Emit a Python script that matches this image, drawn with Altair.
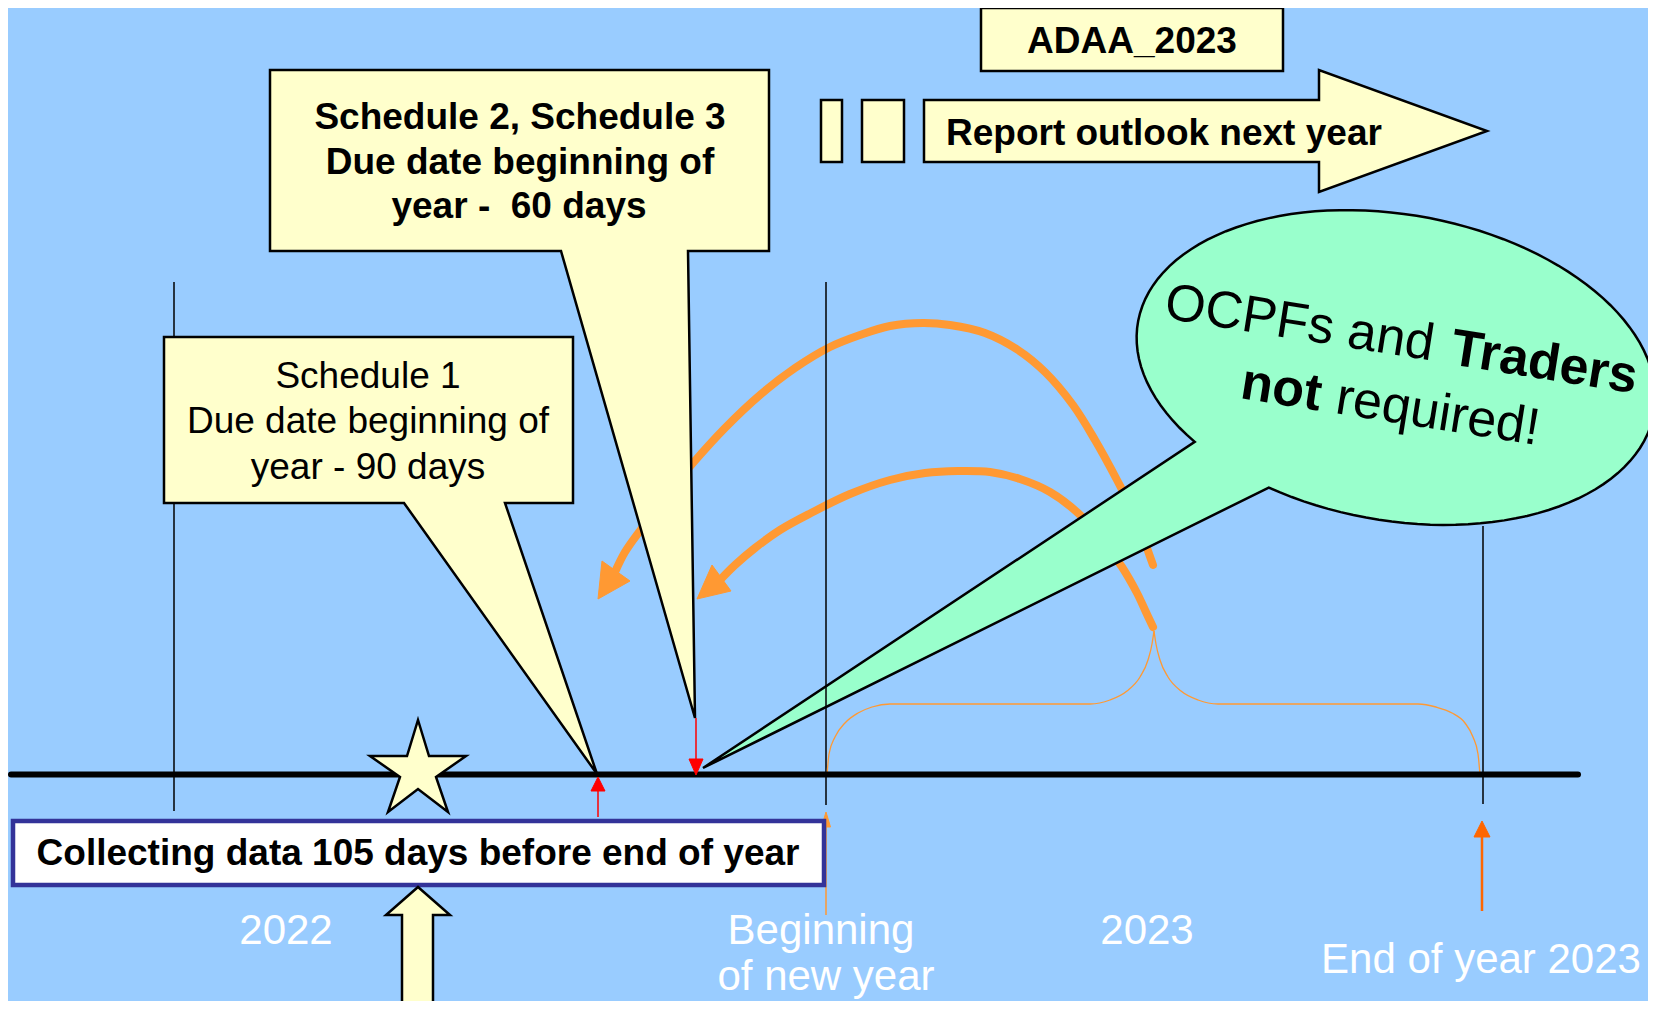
import altair as alt
import pandas as pd
import numpy as np

# ---------------- canvas (coordinates are reference-image pixels) ----------------
W, H = 1640, 993
X0, Y0 = 8, 8
BG, YEL, GRN = "#99CCFF", "#FFFFCC", "#99FFCC"
ORG, ORG2, RED, NAVY = "#FF9933", "#FF6600", "#FF0000", "#333399"
FONT = "Liberation Sans"

# ---------------- shapes ----------------
SCHED1_X = [164, 573, 573, 505, 597, 404, 164]
SCHED1_Y = [337, 337, 503, 503, 774, 503, 503]
SCHED2_X = [270, 769, 769, 688, 695, 561, 270]
SCHED2_Y = [70, 70, 251, 251, 718, 251, 251]
REPORT_X = [924, 1319, 1319, 1487, 1319, 1319, 924]
REPORT_Y = [100, 100, 70, 131, 192, 162, 162]
UPARROW_X = [418, 450, 433, 433, 402, 402, 386]
UPARROW_Y = [887, 915, 915, 1012, 1012, 915, 915]
STAR_X = [418, 429, 466, 436, 448, 418, 388, 400, 370, 407]
STAR_Y = [720, 756, 756, 777, 812, 789, 812, 777, 756, 756]

# green speech bubble: ellipse (centre, radii, tilt) + pointer tip
ELL_CX, ELL_CY, ELL_A, ELL_B, ELL_TILT = 1396, 367.5, 262, 153, 10
ELL_T_START, ELL_T_END = 135, 473.5
BUBBLE_TIP = (703, 768)

# thick orange curved arrows
ARC1_X = [1153, 1147, 1138, 1117, 1095, 1073, 1045, 1018, 985, 950, 923, 890, 860, 830, 795, 760, 725, 693, 665, 642, 625, 615]
ARC1_Y = [565, 548, 522, 480, 440, 405, 372, 350, 333, 325, 323, 326, 335, 347, 368, 395, 428, 463, 497, 528, 552, 572]
ARC2_X = [1153, 1145, 1137, 1122, 1100, 1078, 1050, 1020, 990, 958, 925, 890, 850, 811, 780, 755, 735, 721]
ARC2_Y = [627, 610, 593, 567, 537, 513, 492, 479, 472, 471, 473, 480, 494, 513, 530, 548, 565, 579]
HEAD1_X = [598, 602, 630]
HEAD1_Y = [599, 561, 581]
HEAD2_X = [697, 712, 731]
HEAD2_Y = [599, 565, 591]

# thin orange brace over 2023
BRACE_L_X = [827, 829, 835, 845, 858, 872, 890, 1090, 1110, 1127, 1140, 1148, 1152, 1154]
BRACE_L_Y = [775, 754, 737, 723, 713, 707, 704, 704, 700, 691, 677, 660, 644, 631]
BRACE_R_X = [1154, 1156, 1160, 1168, 1181, 1198, 1218, 1418, 1436, 1452, 1465, 1473, 1478, 1480]
BRACE_R_Y = [631, 644, 660, 677, 691, 700, 704, 704, 707, 713, 723, 737, 754, 775]

# timeline and thin vertical markers
TIMELINE = dict(x=11, x2=1578, y=774.5)
VLINE_X = [174, 826, 1483]
VLINE_Y1 = [282, 282, 526]
VLINE_Y2 = [811, 805, 804]

# small arrows: (x, tip_y, base_y, tail_y, half_width, colour, width)
ARROWS = [
    (696, 775, 759, 718, 7, RED, 1.5),
    (598, 777, 791, 817, 7, RED, 1.5),
    (826, 812, 827, 915, 4.5, ORG, 1.5),
    (1482, 821, 837, 911, 8, ORG2, 2.5),
]

# rectangles: x, x2, y, y2, fill, stroke, width
RECTS = [
    (981, 1283, 8, 71, YEL, "black", 2.5),
    (821, 842, 100, 162, YEL, "black", 2.5),
    (862, 904, 100, 162, YEL, "black", 2.5),
    (13, 824, 821, 885, "white", NAVY, 4.5),
]

# ---------------- texts ----------------
CN_TEXT = ["Schedule 1", "Due date beginning of", "year - 90 days", "2022", "Beginning", "of new year", "2023", "End of year 2023"]
CN_X = [368, 368, 368, 286, 821, 826, 1147, 1481]
CN_Y = [388, 433, 479, 944, 944, 990, 944, 973]
CN_SIZE = [37, 37, 37, 42, 42, 42, 42, 42]
CN_COL = ["black", "black", "black", "white", "white", "white", "white", "white"]

CB_TEXT = ["Schedule 2, Schedule 3", "Due date beginning of", "year - \u00a060 days", "ADAA_2023",
           "Collecting data 105 days before end of year"]
CB_X = [520, 520, 519, 1132, 418]
CB_Y = [129, 174, 218, 53, 865]

LB_TEXT = ["Report outlook next year", "Traders", "not"]
LB_X = [946, 1449, 1239]
LB_Y = [145, 364, 398]
LB_SIZE = [37, 52, 52]
LB_ANGLE = [0, 9, 9]

LN_TEXT = ["OCPFs and", "required!"]
LN_X = [1163, 1334]
LN_Y = [318, 413]
LN_SIZE = [52, 52]
LN_ANGLE = [9, 9]

# ---------------- helpers ----------------
xs = alt.Scale(domain=[X0, X0 + W], nice=False, zero=False)
ys = alt.Scale(domain=[Y0, Y0 + H], nice=False, zero=False, reverse=True)
XE = alt.X("x:Q", scale=xs, axis=None)
YE = alt.Y("y:Q", scale=ys, axis=None)


def poly(px, py, fill, stroke="black", sw=2.5):
    df = pd.DataFrame({"x": px, "y": py, "i": list(range(len(px)))})
    return alt.Chart(df).mark_line(
        fill=fill, stroke=stroke, strokeWidth=sw, strokeJoin="miter",
        interpolate="linear-closed").encode(x=XE, y=YE, order="i:Q")


def curve(px, py, color, sw, interp, cap="round"):
    df = pd.DataFrame({"x": px, "y": py, "i": list(range(len(px)))})
    return alt.Chart(df).mark_line(
        stroke=color, strokeWidth=sw, strokeCap=cap, interpolate=interp
    ).encode(x=XE, y=YE, order="i:Q")


def vrules(xv, y1, y2, color, sw):
    df = pd.DataFrame({"x": xv, "y": y1, "y2": y2})
    return alt.Chart(df).mark_rule(color=color, strokeWidth=sw).encode(
        x=XE, y=YE, y2="y2:Q")


def texts(tt, tx, ty, size, col, ang, align, weight):
    df = pd.DataFrame({"t": tt, "x": tx, "y": ty, "s": size, "c": col, "a": ang})
    return alt.Chart(df).mark_text(
        align=align, baseline="alphabetic", font=FONT, fontWeight=weight
    ).encode(x=XE, y=YE, text="t:N",
             size=alt.Size("s:Q", scale=None),
             color=alt.Color("c:N", scale=None),
             angle=alt.Angle("a:Q", scale=None))


# green bubble outline (ellipse arc + pointer)
t = np.radians(np.linspace(ELL_T_START, ELL_T_END, 120))
th = np.radians(ELL_TILT)
ex = ELL_CX + ELL_A * np.cos(t) * np.cos(th) - ELL_B * np.sin(t) * np.sin(th)
ey = ELL_CY + ELL_A * np.cos(t) * np.sin(th) + ELL_B * np.sin(t) * np.cos(th)
BUB_X = list(ex) + [BUBBLE_TIP[0]]
BUB_Y = list(ey) + [BUBBLE_TIP[1]]

layers = []
# orange curved arrows (behind the bubble)
layers.append(curve(ARC1_X, ARC1_Y, ORG, 8, "catmull-rom"))
layers.append(curve(ARC2_X, ARC2_Y, ORG, 8, "catmull-rom"))
layers.append(poly(HEAD1_X, HEAD1_Y, ORG, ORG, 1))
layers.append(poly(HEAD2_X, HEAD2_Y, ORG, ORG, 1))
# bubble
layers.append(poly(BUB_X, BUB_Y, GRN, "black", 2.5))
# vertical markers
layers.append(vrules(VLINE_X, VLINE_Y1, VLINE_Y2, "black", 1.5))
# brace
layers.append(curve(BRACE_L_X, BRACE_L_Y, ORG, 1.3, "monotone", "butt"))
layers.append(curve(BRACE_R_X, BRACE_R_Y, ORG, 1.3, "monotone", "butt"))
# callouts
layers.append(poly(SCHED1_X, SCHED1_Y, YEL))
layers.append(poly(SCHED2_X, SCHED2_Y, YEL))
# timeline
tl = pd.DataFrame([TIMELINE])
layers.append(alt.Chart(tl).mark_rule(color="black", strokeWidth=6, strokeCap="round").encode(
    x=XE, x2="x2:Q", y=YE))
# small arrows
for ax, tip, base, tail, hw, col, sw in ARROWS:
    layers.append(vrules([ax], [base], [tail], col, sw))
    layers.append(poly([ax, ax - hw, ax + hw], [tip, base, base], col, col, 1))
# star
layers.append(poly(STAR_X, STAR_Y, YEL, "black", 2.5))
# rectangles
for x1, x2, y1, y2, f, s, sw in RECTS:
    rd = pd.DataFrame({"x": [x1], "x2": [x2], "y": [y1], "y2": [y2]})
    layers.append(alt.Chart(rd).mark_rect(fill=f, stroke=s, strokeWidth=sw).encode(
        x=XE, x2="x2:Q", y=YE, y2="y2:Q"))
# block arrows
layers.append(poly(REPORT_X, REPORT_Y, YEL))
layers.append(poly(UPARROW_X, UPARROW_Y, YEL))
# texts
layers.append(texts(CN_TEXT, CN_X, CN_Y, CN_SIZE, CN_COL, [0] * len(CN_TEXT), "center", "normal"))
layers.append(texts(CB_TEXT, CB_X, CB_Y, [37] * len(CB_TEXT), ["black"] * len(CB_TEXT),
                    [0] * len(CB_TEXT), "center", "bold"))
layers.append(texts(LB_TEXT, LB_X, LB_Y, LB_SIZE, ["black"] * 3, LB_ANGLE, "left", "bold"))
layers.append(texts(LN_TEXT, LN_X, LN_Y, LN_SIZE, ["black"] * 2, LN_ANGLE, "left", "normal"))

chart = alt.layer(*layers).properties(
    width=W, height=H, background=BG, padding=0,
    autosize=alt.AutoSizeParams(type="none"),
).configure_view(stroke=None)

chart.save("out.html", embed_options={"renderer": "svg", "actions": False})
